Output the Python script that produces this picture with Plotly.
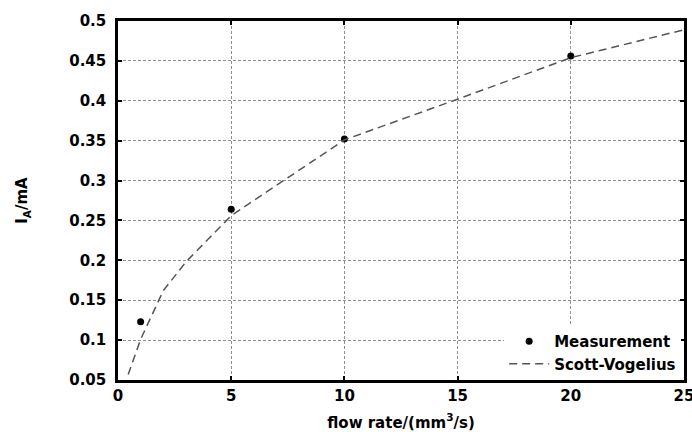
import plotly.graph_objects as go

# Measurement data
meas_x = [1, 5, 10, 20]
meas_y = [0.123, 0.264, 0.352, 0.456]

# Scott-Vogelius model curve
sv_x = [0.45, 1, 2, 3, 5, 10, 15, 20, 25]
sv_y = [0.057, 0.101, 0.162, 0.198, 0.256, 0.351, 0.402, 0.454, 0.489]

x_ticks = [0, 5, 10, 15, 20, 25]
y_ticks = [0.05, 0.1, 0.15, 0.2, 0.25, 0.3, 0.35, 0.4, 0.45, 0.5]

FONT = "DejaVu Sans"

fig = go.Figure()
fig.add_trace(go.Scatter(
    x=meas_x, y=meas_y, mode="markers", name="Measurement",
    marker=dict(color="black", size=7, symbol="circle"),
))
fig.add_trace(go.Scatter(
    x=sv_x, y=sv_y, mode="lines", name="Scott-Vogelius",
    line=dict(color="#555555", width=1.5, dash="8px,5px"),
))

axis_common = dict(
    showline=True, linecolor="black", linewidth=2.5, mirror="allticks",
    ticks="inside", ticklen=4, tickwidth=1.5, tickcolor="black",
    showgrid=True, gridcolor="#8f8f8f", gridwidth=1.2, griddash="3px,2px",
    zeroline=False, automargin=False, ticklabeloverflow="allow",
    tickfont=dict(family=FONT, size=15, color="black", weight="bold"),
)

fig.update_layout(
    width=692, height=432,
    margin=dict(l=118, r=8, t=21, b=52),
    paper_bgcolor="white", plot_bgcolor="white",
    font=dict(family=FONT, color="black"),
    xaxis=dict(
        range=[0, 25], tickvals=x_ticks, ticktext=[str(v) for v in x_ticks],
        title=dict(text="flow rate/(mm<sup>3</sup>/s)",
                   font=dict(family=FONT, size=15, color="black", weight="bold"),
                   standoff=14),
        **axis_common,
    ),
    yaxis=dict(
        range=[0.05, 0.5], tickvals=y_ticks, ticktext=[f"{v:g}" for v in y_ticks],
        ticklabelstandoff=6,
        title=dict(text="I<sub>A</sub>/mA",
                   font=dict(family=FONT, size=15, color="black", weight="bold"),
                   standoff=38),
        **axis_common,
    ),
    legend=dict(
        x=0.995, y=0.0, xanchor="right", yanchor="bottom",
        bgcolor="white", borderwidth=0,
        font=dict(family=FONT, size=15, color="black", weight="bold"),
        tracegroupgap=0, itemwidth=40,
    ),
    showlegend=True,
)

fig.write_html("out.html")
